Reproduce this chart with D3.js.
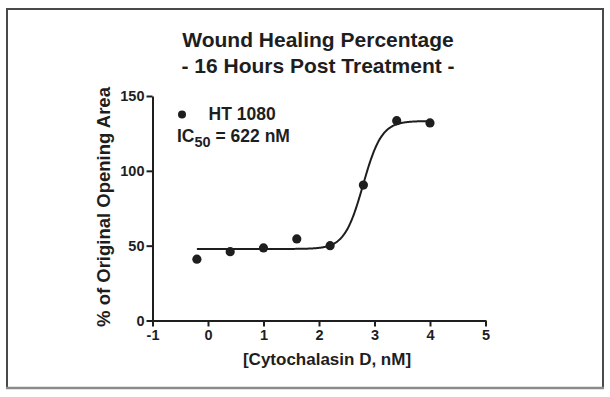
<!DOCTYPE html>
<html>
<head>
<meta charset="utf-8">
<script src="https://cdn.jsdelivr.net/npm/d3@7"></script>
<style>
  body { margin: 0; background: #fff; }
  svg text { font-family: "Liberation Sans", Arial, sans-serif; font-weight: bold; fill: #1e1e1e; }
</style>
</head>
<body>
<svg id="svg" width="610" height="397"></svg>
<script>
// log10 concentration (nM) and % of original opening area
const logDose = [-0.2, 0.4, 1.0, 1.6, 2.2, 2.8, 3.4, 4.0];
const woundArea = [41, 46, 48.5, 54.5, 50, 90.5, 133.5, 132];
const xTicks = [-1, 0, 1, 2, 3, 4, 5];
const yTicks = [0, 50, 100, 150];

// four parameter fit
const fitBottom = 47.8;
const fitTop = 133.3;
const fitLogIC50 = Math.log10(622);
const fitHill = 2.6;
const fitRange = [-0.2, 4.0];

const svg = d3.select("#svg");
const ink = "#1e1e1e";

const x = d3.scaleLinear().domain([-1, 5]).range([152.5, 485.5]);
const y = d3.scaleLinear().domain([0, 150]).range([320.5, 96]);

// frame
svg.append("rect")
    .attr("x", 7).attr("y", 9).attr("width", 596).attr("height", 379)
    .attr("fill", "none").attr("stroke", "#4a4a4a").attr("stroke-width", 2);
svg.append("line")
    .attr("x1", 6).attr("x2", 604).attr("y1", 388).attr("y2", 388)
    .attr("stroke", "#8a8a8a").attr("stroke-width", 2.5);

// title
const title = svg.append("text").attr("text-anchor", "middle").style("font-size", "21px");
title.append("tspan").attr("x", 318).attr("y", 46.5).text("Wound Healing Percentage");
title.append("tspan").attr("x", 318).attr("y", 73).text("- 16 Hours Post Treatment -");

// axes
const plain = d => String(d);
const xAxis = svg.append("g")
    .attr("transform", `translate(0,${y(0)})`)
    .call(d3.axisBottom(x).tickValues(xTicks).tickFormat(plain)
        .tickSize(6).tickPadding(3).tickSizeOuter(0));
const yAxis = svg.append("g")
    .attr("transform", `translate(${x(-1)},0)`)
    .call(d3.axisLeft(y).tickValues(yTicks).tickFormat(plain)
        .tickSize(6).tickPadding(2).tickSizeOuter(0));

[xAxis, yAxis].forEach(g => {
    g.select(".domain").attr("stroke", ink).attr("stroke-width", 2);
    g.selectAll(".tick line").attr("stroke", ink).attr("stroke-width", 2);
    g.selectAll(".tick text").attr("fill", ink)
        .style("font-size", "14.5px").style("font-family", "Liberation Sans, Arial, sans-serif")
        .style("font-weight", "bold");
});

// axis titles
svg.append("text")
    .attr("x", 327).attr("y", 364.5).attr("text-anchor", "middle")
    .style("font-size", "17px").text("[Cytochalasin D, nM]");
svg.append("text")
    .attr("transform", `translate(110,207) rotate(-90)`)
    .attr("text-anchor", "middle")
    .style("font-size", "18.5px").text("% of Original Opening Area");

// fitted curve
const curveX = d3.range(fitRange[0], fitRange[1] + 0.001, 0.01);
const fit = lx => fitBottom + (fitTop - fitBottom) / (1 + Math.pow(10, (fitLogIC50 - lx) * fitHill));
svg.append("path")
    .datum(curveX)
    .attr("fill", "none").attr("stroke", ink).attr("stroke-width", 2)
    .attr("d", d3.line().x(d => x(d)).y(d => y(fit(d))));

// points
svg.append("g").selectAll("circle")
    .data(logDose)
    .join("circle")
    .attr("cx", d => x(d))
    .attr("cy", (d, i) => y(woundArea[i]))
    .attr("r", 4.6)
    .attr("fill", ink);

// legend
svg.append("circle").attr("cx", 182).attr("cy", 114.5).attr("r", 4).attr("fill", ink);
svg.append("text").attr("x", 208.5).attr("y", 120).style("font-size", "17.5px").text("HT 1080");
const ic = svg.append("text").attr("x", 177).attr("y", 142).style("font-size", "17.5px");
ic.append("tspan").text("IC");
ic.append("tspan").attr("dy", 5).style("font-size", "14.5px").text("50");
ic.append("tspan").attr("dy", -5).text(" = 622 nM");
</script>
</body>
</html>
